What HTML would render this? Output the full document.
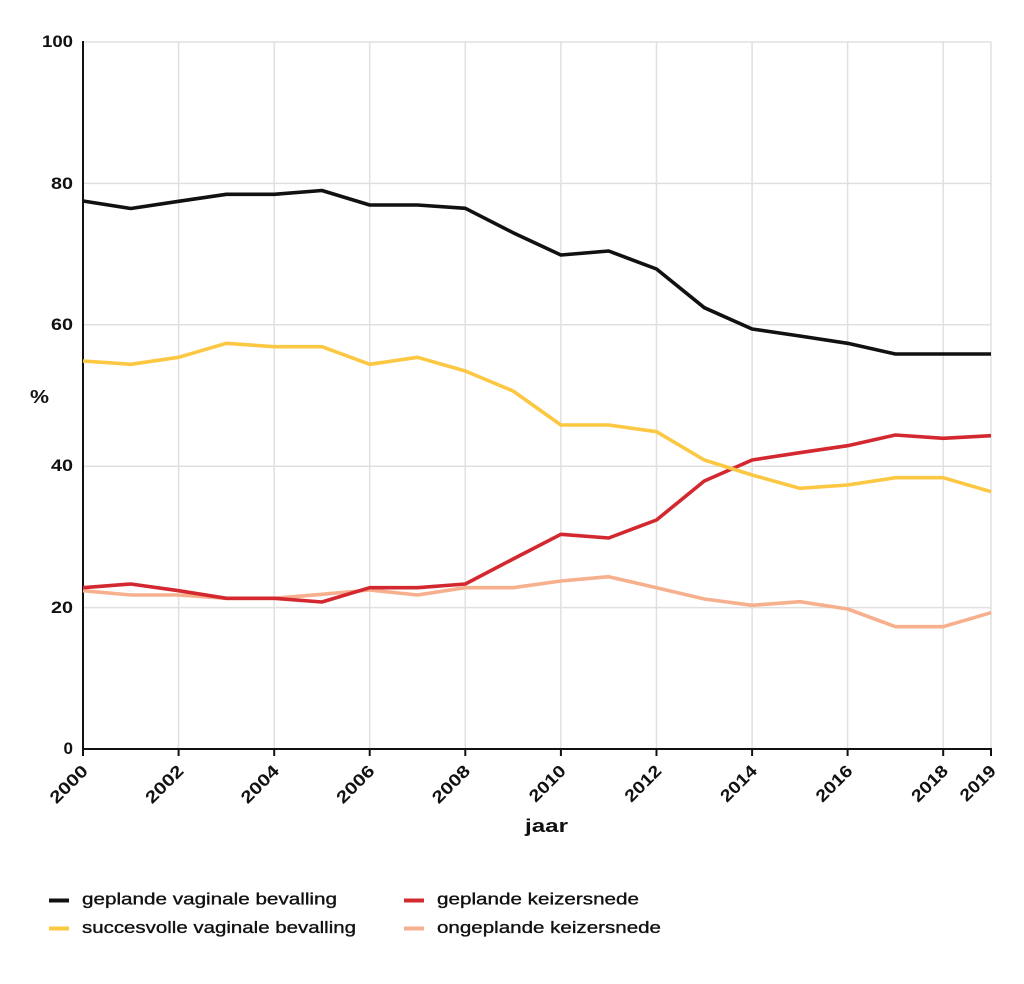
<!DOCTYPE html>
<html>
<head>
<meta charset="utf-8">
<style>
  html,body{margin:0;padding:0;background:#fff;}
  svg{display:block;}
  text{font-family:"Liberation Sans",sans-serif;fill:#111;}
</style>
</head>
<body>
<svg width="1024" height="984" viewBox="0 0 1024 984" xmlns="http://www.w3.org/2000/svg">
  <rect width="1024" height="984" fill="#fff"/>
  <!-- grid -->
  <g stroke="#e0e0e0" stroke-width="1.5" fill="none">
    <line x1="83" y1="42" x2="991" y2="42"/>
    <line x1="83" y1="183.4" x2="991" y2="183.4"/>
    <line x1="83" y1="324.8" x2="991" y2="324.8"/>
    <line x1="83" y1="466.2" x2="991" y2="466.2"/>
    <line x1="83" y1="607.6" x2="991" y2="607.6"/>
    <line x1="178.6" y1="42" x2="178.6" y2="749"/>
    <line x1="274.2" y1="42" x2="274.2" y2="749"/>
    <line x1="369.7" y1="42" x2="369.7" y2="749"/>
    <line x1="465.3" y1="42" x2="465.3" y2="749"/>
    <line x1="560.9" y1="42" x2="560.9" y2="749"/>
    <line x1="656.5" y1="42" x2="656.5" y2="749"/>
    <line x1="752.1" y1="42" x2="752.1" y2="749"/>
    <line x1="847.6" y1="42" x2="847.6" y2="749"/>
    <line x1="943.2" y1="42" x2="943.2" y2="749"/>
    <line x1="991" y1="42" x2="991" y2="749"/>
  </g>
  <!-- axes -->
  <g stroke="#111" stroke-width="2" fill="none">
    <line x1="83" y1="41" x2="83" y2="750"/>
    <line x1="82" y1="749" x2="992" y2="749"/>
    <line x1="83" y1="749" x2="83" y2="756"/>
    <line x1="178.6" y1="749" x2="178.6" y2="756"/>
    <line x1="274.2" y1="749" x2="274.2" y2="756"/>
    <line x1="369.7" y1="749" x2="369.7" y2="756"/>
    <line x1="465.3" y1="749" x2="465.3" y2="756"/>
    <line x1="560.9" y1="749" x2="560.9" y2="756"/>
    <line x1="656.5" y1="749" x2="656.5" y2="756"/>
    <line x1="752.1" y1="749" x2="752.1" y2="756"/>
    <line x1="847.6" y1="749" x2="847.6" y2="756"/>
    <line x1="943.2" y1="749" x2="943.2" y2="756"/>
    <line x1="991" y1="749" x2="991" y2="756"/>
  </g>
  <!-- y labels -->
  <g font-size="17" font-weight="bold" text-anchor="end">
    <text x="73" y="47" textLength="31" lengthAdjust="spacingAndGlyphs">100</text>
    <text x="73" y="189" textLength="22" lengthAdjust="spacingAndGlyphs">80</text>
    <text x="73" y="330" textLength="22" lengthAdjust="spacingAndGlyphs">60</text>
    <text x="73" y="471" textLength="22" lengthAdjust="spacingAndGlyphs">40</text>
    <text x="73" y="613" textLength="22" lengthAdjust="spacingAndGlyphs">20</text>
    <text x="73" y="754">0</text>
  </g>
  <text x="30" y="403" font-size="18" font-weight="bold" textLength="19" lengthAdjust="spacingAndGlyphs">%</text>
  <!-- x labels -->
  <g font-size="17" font-weight="bold" text-anchor="end">
    <text transform="translate(89,772) rotate(-45)" textLength="46" lengthAdjust="spacingAndGlyphs">2000</text>
    <text transform="translate(184.6,772) rotate(-45)" textLength="46" lengthAdjust="spacingAndGlyphs">2002</text>
    <text transform="translate(280.2,772) rotate(-45)" textLength="46" lengthAdjust="spacingAndGlyphs">2004</text>
    <text transform="translate(375.7,772) rotate(-45)" textLength="46" lengthAdjust="spacingAndGlyphs">2006</text>
    <text transform="translate(471.3,772) rotate(-45)" textLength="46" lengthAdjust="spacingAndGlyphs">2008</text>
    <text transform="translate(566.9,772) rotate(-45)" textLength="44" lengthAdjust="spacingAndGlyphs">2010</text>
    <text transform="translate(662.5,772) rotate(-45)" textLength="44" lengthAdjust="spacingAndGlyphs">2012</text>
    <text transform="translate(758.1,772) rotate(-45)" textLength="44" lengthAdjust="spacingAndGlyphs">2014</text>
    <text transform="translate(853.6,772) rotate(-45)" textLength="44" lengthAdjust="spacingAndGlyphs">2016</text>
    <text transform="translate(949.2,772) rotate(-45)" textLength="44" lengthAdjust="spacingAndGlyphs">2018</text>
    <text transform="translate(997,772) rotate(-45)" textLength="43" lengthAdjust="spacingAndGlyphs">2019</text>
  </g>
  <text x="525" y="832" font-size="18" font-weight="bold" textLength="43" lengthAdjust="spacingAndGlyphs">jaar</text>
  <!-- series -->
  <g fill="none" stroke-width="3.6" stroke-linejoin="round" stroke-linecap="butt">
    <polyline stroke="#f7b08d" points="83,590.7 130.8,595 178.6,595 226.4,598.3 274.2,598.3 321.9,594.3 369.7,590 417.5,595 465.3,587.7 513.1,587.7 560.9,581 608.7,576.7 656.5,587.7 704.3,599 752.1,605.3 799.8,601.7 847.6,609 895.4,626.7 943.2,626.7 991,612.7"/>
    <polyline stroke="#d3282f" points="83,587.7 130.8,584 178.6,590.7 226.4,598.3 274.2,598.3 321.9,602 369.7,587.7 417.5,587.7 465.3,584 513.1,559 560.9,534.3 608.7,538 656.5,520 704.3,481 752.1,460 799.8,452.7 847.6,445.7 895.4,435 943.2,438.3 991,435.7"/>
    <polyline stroke="#fcc843" points="83,361 130.8,364.3 178.6,357.3 226.4,343.3 274.2,346.7 321.9,346.7 369.7,364.3 417.5,357.3 465.3,371 513.1,391 560.9,425 608.7,425 656.5,431.7 704.3,460 752.1,475 799.8,488.3 847.6,485 895.4,477.7 943.2,477.7 991,491.7"/>
    <polyline stroke="#111" points="83,201 130.8,208.5 178.6,201.3 226.4,194.3 274.2,194.3 321.9,190.5 369.7,205 417.5,205 465.3,208.3 513.1,232.7 560.9,255 608.7,251 656.5,269 704.3,307.7 752.1,329 799.8,336 847.6,343.3 895.4,354 943.2,354 991,354"/>
  </g>
  <!-- legend -->
  <g stroke-width="4">
    <line x1="49" y1="900.5" x2="69" y2="900.5" stroke="#111"/>
    <line x1="49" y1="928.5" x2="69" y2="928.5" stroke="#fcc843"/>
    <line x1="404" y1="900.5" x2="424" y2="900.5" stroke="#d3282f"/>
    <line x1="404" y1="928.5" x2="424" y2="928.5" stroke="#f7b08d"/>
  </g>
  <g font-size="17" stroke="#111" stroke-width="0.35">
    <text x="82" y="904.5" textLength="255" lengthAdjust="spacingAndGlyphs">geplande vaginale bevalling</text>
    <text x="82" y="933" textLength="274" lengthAdjust="spacingAndGlyphs">succesvolle vaginale bevalling</text>
    <text x="437" y="904.5" textLength="202" lengthAdjust="spacingAndGlyphs">geplande keizersnede</text>
    <text x="437" y="933" textLength="224" lengthAdjust="spacingAndGlyphs">ongeplande keizersnede</text>
  </g>
</svg>
</body>
</html>
